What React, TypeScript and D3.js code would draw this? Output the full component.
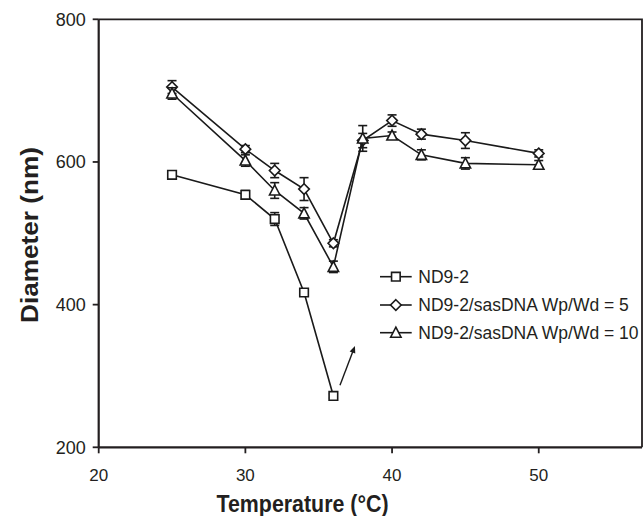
import React from "react";
import * as d3 from "d3";

const allTemps = [25, 30, 32, 34, 36, 38, 40, 42, 45, 50];
const ndTemps = [25, 30, 32, 34, 36];
const ndValues = [582, 554, 520, 417, 272];
const ndErrors = [3, 6, 9, 4, 3];
const wd5Values = [705, 618, 588, 562, 486, 630, 658, 639, 630, 612];
const wd5Errors = [9, 5, 10, 16, 5, 10, 8, 7, 11, 5];
const wd10Values = [696, 602, 560, 528, 453, 633, 637, 610, 598, 596];
const wd10Errors = [8, 8, 11, 8, 8, 18, 5, 7, 8, 6];
const xTicks = [20, 30, 40, 50];
const yTicks = [200, 400, 600, 800];
const legendLabels = ["ND9-2", "ND9-2/sasDNA Wp/Wd = 5", "ND9-2/sasDNA Wp/Wd = 10"];
const arrowFrom = [36.45, 287];
const arrowTo = [37.47, 342];

const W = 643;
const H = 516;
const left = 98.7;
const right = 642;
const top = 19.3;
const bottom = 447.3;

const x = d3.scaleLinear().domain([20, 57.04]).range([left, right]);
const y = d3.scaleLinear().domain([200, 800]).range([bottom, top]);

const FONT = "'Liberation Sans', Arial, Helvetica, sans-serif";

type Shape = "square" | "diamond" | "triangle";

function markerPath(shape: Shape, cx: number, cy: number): string {
  if (shape === "square") {
    const s = 4.3;
    return `M${cx - s},${cy - s}H${cx + s}V${cy + s}H${cx - s}Z`;
  }
  if (shape === "diamond") {
    const s = 5.3;
    return `M${cx},${cy - s}L${cx + s},${cy}L${cx},${cy + s}L${cx - s},${cy}Z`;
  }
  const w = 5.2;
  return `M${cx},${cy - 5.5}L${cx + w},${cy + 4.5}L${cx - w},${cy + 4.5}Z`;
}

function Series({ temps, values, errors, shape }: { temps: number[]; values: number[]; errors: number[]; shape: Shape }) {
  const pts = temps.map((t, i) => [x(t), y(values[i])] as [number, number]);
  const line = d3.line()(pts) || "";
  return (
    <g>
      <path d={line} fill="none" stroke="#1a1a1a" strokeWidth={1.6} />
      {temps.map((t, i) => {
        const cx = x(t);
        const y1 = y(values[i] + errors[i]);
        const y2 = y(values[i] - errors[i]);
        return (
          <g key={"e" + i} stroke="#1a1a1a" strokeWidth={1.6}>
            <line x1={cx} x2={cx} y1={y1} y2={y2} />
            <line x1={cx - 4.5} x2={cx + 4.5} y1={y1} y2={y1} />
            <line x1={cx - 4.5} x2={cx + 4.5} y1={y2} y2={y2} />
          </g>
        );
      })}
      {temps.map((t, i) => (
        <path key={"m" + i} d={markerPath(shape, x(t), y(values[i]))} fill="#fff" stroke="#1a1a1a" strokeWidth={1.6} />
      ))}
    </g>
  );
}

export default function App() {
  const shapes: Shape[] = ["square", "diamond", "triangle"];
  const legendX0 = 380;
  const legendX1 = 411.7;
  const legendRows = [276.7, 305, 332.7];
  const ax1 = x(arrowFrom[0]);
  const ay1 = y(arrowFrom[1]);
  const ax2 = x(arrowTo[0]);
  const ay2 = y(arrowTo[1]);
  const ang = Math.atan2(ay2 - ay1, ax2 - ax1);
  const hl = 7;
  const hw = 3;
  const hx1 = ax2 - hl * Math.cos(ang) + hw * Math.sin(ang);
  const hy1 = ay2 - hl * Math.sin(ang) - hw * Math.cos(ang);
  const hx2 = ax2 - hl * Math.cos(ang) - hw * Math.sin(ang);
  const hy2 = ay2 - hl * Math.sin(ang) + hw * Math.cos(ang);

  return (
    <svg width={W} height={H} style={{ position: "absolute", left: 0, top: 0, background: "#fff" }}>
      <rect x={0} y={0} width={W} height={H} fill="#fff" />
      {/* plot frame */}
      <path d={`M${left},${top}H${right}V${bottom}`} fill="none" stroke="#231f20" strokeWidth={1.8} />
      <line x1={left} x2={left} y1={top} y2={bottom} stroke="#231f20" strokeWidth={2.2} />
      <line x1={left} x2={right} y1={bottom} y2={bottom} stroke="#231f20" strokeWidth={2.2} />
      {/* y ticks */}
      {yTicks.map((t) => (
        <g key={"yt" + t}>
          <line x1={left - 6} x2={left} y1={y(t)} y2={y(t)} stroke="#231f20" strokeWidth={1.8} />
          <text x={left - 13} y={y(t) + 6.5} textAnchor="end" fontFamily={FONT} fontSize={18} fill="#231f20">
            {t}
          </text>
        </g>
      ))}
      {/* x ticks */}
      {xTicks.map((t) => (
        <g key={"xt" + t}>
          <line x1={x(t)} x2={x(t)} y1={bottom} y2={bottom + 6} stroke="#231f20" strokeWidth={1.8} />
          <text x={x(t)} y={481} textAnchor="middle" fontFamily={FONT} fontSize={17} fill="#231f20">
            {t}
          </text>
        </g>
      ))}
      {/* axis titles */}
      <text x={302.5} y={511.5} textAnchor="middle" fontFamily={FONT} fontWeight="bold" fontSize={23} fill="#231f20" textLength={172} lengthAdjust="spacingAndGlyphs">
        Temperature (°C)
      </text>
      <text transform={`translate(37.5,235) rotate(-90)`} textAnchor="middle" fontFamily={FONT} fontWeight="bold" fontSize={24} fill="#231f20" textLength={176} lengthAdjust="spacingAndGlyphs">
        Diameter (nm)
      </text>
      {/* series */}
      <Series temps={ndTemps} values={ndValues} errors={ndErrors} shape="square" />
      <Series temps={allTemps} values={wd5Values} errors={wd5Errors} shape="diamond" />
      <Series temps={allTemps} values={wd10Values} errors={wd10Errors} shape="triangle" />
      {/* arrow */}
      <line x1={ax1} y1={ay1} x2={ax2 - 3 * Math.cos(ang)} y2={ay2 - 3 * Math.sin(ang)} stroke="#1a1a1a" strokeWidth={1.4} />
      <path d={`M${ax2},${ay2}L${hx1},${hy1}L${hx2},${hy2}Z`} fill="#1a1a1a" />
      {/* legend */}
      {legendLabels.map((lab, i) => {
        const ly = legendRows[i];
        const cx = (legendX0 + legendX1) / 2;
        return (
          <g key={"lg" + i}>
            <line x1={legendX0} x2={legendX1} y1={ly} y2={ly} stroke="#1a1a1a" strokeWidth={1.6} />
            <path d={markerPath(shapes[i], cx, ly)} fill="#fff" stroke="#1a1a1a" strokeWidth={1.6} />
            <text x={418.3} y={ly + 6.3} fontFamily={FONT} fontSize={17.5} fill="#231f20">
              {lab}
            </text>
          </g>
        );
      })}
    </svg>
  );
}
